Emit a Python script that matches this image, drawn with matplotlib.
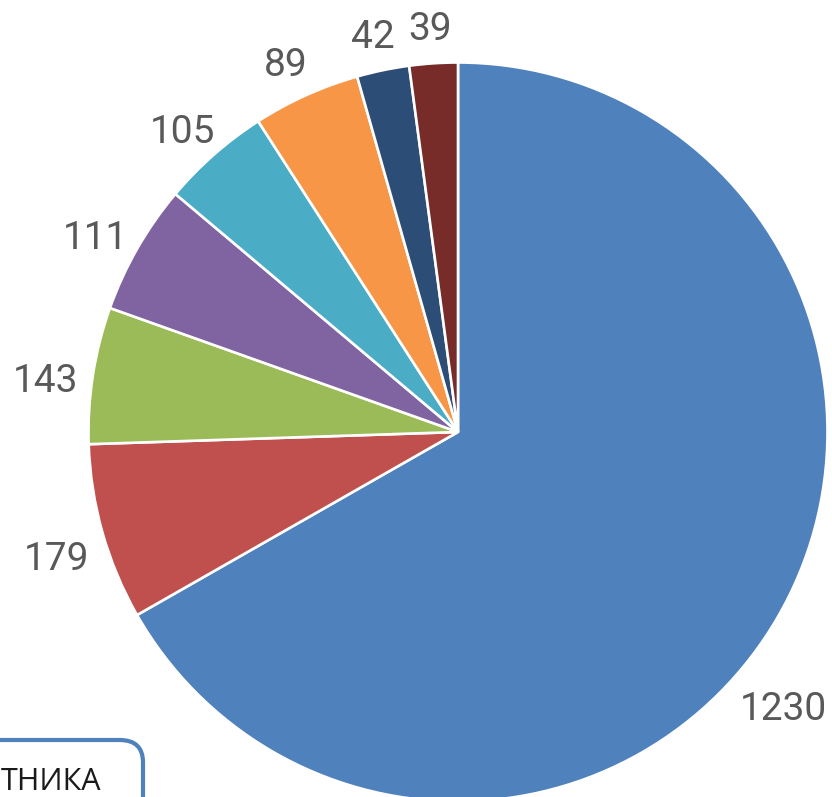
import numpy as np
import matplotlib
matplotlib.use("Agg")
import matplotlib.pyplot as plt
from matplotlib.patches import FancyBboxPatch

# values printed on the slices
counts = [1230, 179, 143, 111, 105, 89, 42, 39]
# slice sizes as drawn in the picture (degrees of arc)
shares = [240.3, 27.8, 21.5, 20.5, 17.15, 16.9, 8.24, 7.6]
colors = ["#4F81BD", "#C0504D", "#9BBB59", "#8064A2",
          "#4BACC6", "#F79646", "#2C4D75", "#772C2A"]

W, H = 832, 797
cx, cy, R = 458, 432, 369.5   # pie centre / radius in pixels (from top)

fig = plt.figure(figsize=(W/100, H/100), dpi=100)
ax = fig.add_axes([0, 0, 1, 1])

wedges, texts = ax.pie(shares, colors=colors, startangle=90, counterclock=False,
                       labels=[str(c) for c in counts], labeldistance=1.13,
                       wedgeprops=dict(edgecolor="white", linewidth=1.9),
                       textprops=dict(fontsize=28, color="#595959",
                                      family=["Roboto", "DejaVu Sans"]))
ax.set_xlim(-cx/R, (W-cx)/R)
ax.set_ylim(-(H-cy)/R, cy/R)
ax.set_aspect("equal")
ax.axis("off")

dy = 10 / R   # nudge labels down a little
for t in texts:
    t.set_ha("center"); t.set_va("center_baseline")
    x, y = t.get_position()
    t.set_position((x, y - dy))
# the big label sits lower than its slice middle
a = np.deg2rad(-40)
texts[0].set_position((1.15*np.cos(a), 1.15*np.sin(a)))

# cropped rounded box in the lower left corner
box = FancyBboxPatch((-60/W, -40/H), 203/W, 97/H,
                     boxstyle="round,pad=0,rounding_size=0.028",
                     transform=fig.transFigure, facecolor="white",
                     edgecolor="#4F81BD", linewidth=3, clip_on=False)
fig.patches.append(box)
fig.text(101/W, 7/H, "ТНИКА", ha="right", va="baseline", fontsize=22,
         color="#1a1a1a", family=["Open Sans", "DejaVu Sans"])

fig.savefig("out.png", dpi=100)
